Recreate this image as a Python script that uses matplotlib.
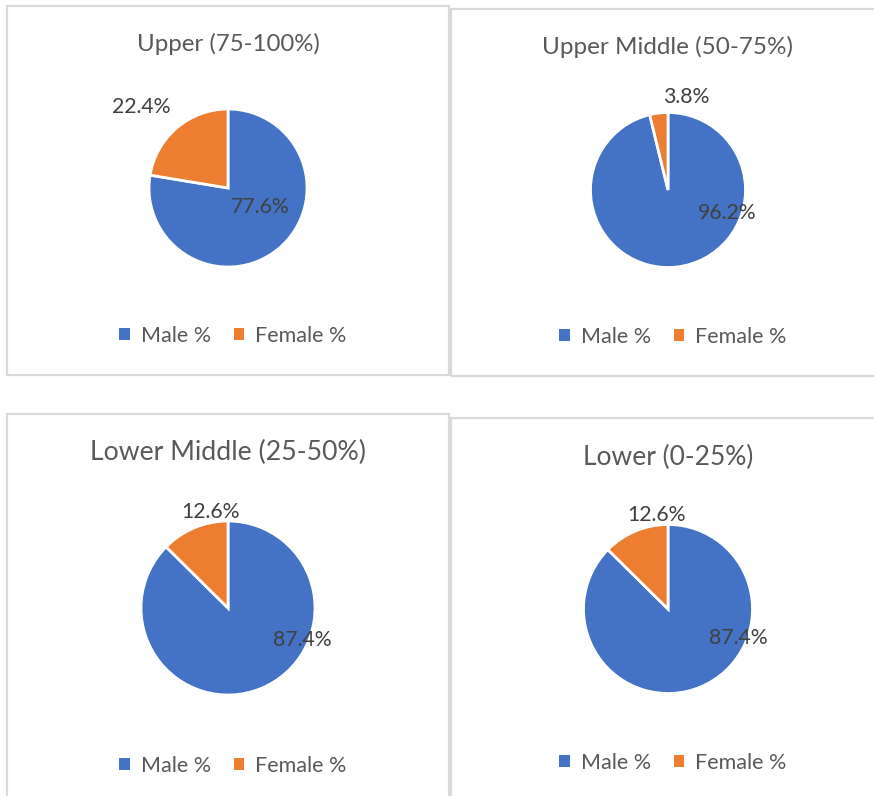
import matplotlib
matplotlib.use('Agg')
import matplotlib.pyplot as plt
from matplotlib.patches import Rectangle, Patch

plt.rcParams['font.family'] = ['Lato', 'DejaVu Sans']

W, H = 874, 796

# data
titles = ['Upper (75-100%)', 'Upper Middle (50-75%)', 'Lower Middle (25-50%)', 'Lower (0-25%)']
categories = ['Male %', 'Female %']
male_pct = [77.6, 96.2, 87.4, 87.4]
female_pct = [22.4, 3.8, 12.6, 12.6]
COLORS = ['#4472C4', '#ED7D31']

# layout (pixels): border box, pie centre, radius, title y, legend y, title size
borders = [(7, 6, 449, 375), (451, 9, 880, 376), (7, 414, 449, 800), (451, 418, 880, 800)]
centres = [(228, 188), (668, 190), (228, 608), (668, 609)]
radii = [79, 77.5, 87, 84.5]
title_y = [44, 47, 452, 457]
legend_y = [336, 337, 766, 763]
title_fs = [17.3, 17.5, 19.2, 19.0]
# label offsets in units of pie radius (male, female)
label_pos = [
    [(0.41, -0.24), (-1.10, 1.03)],
    [(0.76, -0.30), (0.23, 1.20)],
    [(0.85, -0.37), (-0.20, 1.10)],
    [(0.83, -0.34), (-0.13, 1.11)],
]

fig = plt.figure(figsize=(W / 100, H / 100), dpi=100)
fig.patch.set_facecolor('white')

def fx(x):
    return x / W

def fy(y):
    return 1 - y / H

for i in range(4):
    x0, y0, x1, y1 = borders[i]
    fig.patches.append(Rectangle((fx(x0), fy(y1)), fx(x1) - fx(x0), fy(y0) - fy(y1),
                                 transform=fig.transFigure, fill=False,
                                 edgecolor='#D9D9D9', lw=1.6, zorder=0))

    cx, cy = centres[i]
    r = radii[i]
    k = 1.6
    ax = fig.add_axes([fx(cx - r * k), fy(cy + r * k), 2 * r * k / W, 2 * r * k / H])
    wedges, _ = ax.pie([male_pct[i], female_pct[i]], colors=COLORS, startangle=90,
                       counterclock=False, radius=1,
                       wedgeprops=dict(edgecolor='white', linewidth=2))
    ax.set_xlim(-k, k)
    ax.set_ylim(-k, k)
    ax.set_aspect('equal')
    ax.axis('off')

    vals = [male_pct[i], female_pct[i]]
    for (lx, ly), v in zip(label_pos[i], vals):
        ax.text(lx, ly, f'{v:.1f}%', ha='center', va='center', fontsize=15.3,
                color='#404040')

    fig.text(fx(cx), fy(title_y[i]), titles[i], ha='center', va='center',
             fontsize=title_fs[i], color='#595959')

    handles = [Patch(facecolor=c, edgecolor='none') for c in COLORS]
    fig.legend(handles, categories, loc='center', ncol=2, frameon=False,
               bbox_to_anchor=(fx(cx + 5), fy(legend_y[i])), fontsize=15.5,
               handlelength=0.5, handleheight=0.5, handletextpad=0.5,
               columnspacing=1.05, labelcolor='#595959')

fig.savefig('out.png', dpi=100, facecolor='white')
